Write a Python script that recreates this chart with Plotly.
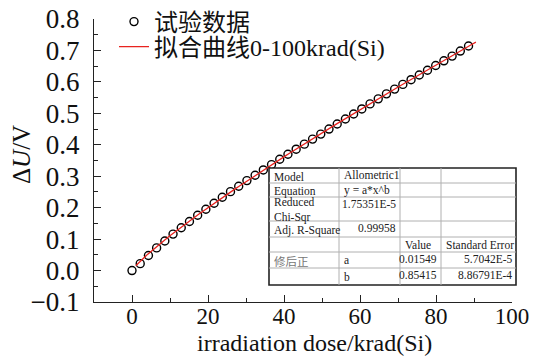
import numpy as np
import plotly.graph_objects as go

# Measured irradiation dose (krad(Si)) and threshold-voltage shift (V)
dose = [0.0, 2.16, 4.32, 6.48, 8.64, 10.8, 12.96, 15.12, 17.28, 19.44, 21.6,
        23.76, 25.92, 28.08, 30.24, 32.4, 34.56, 36.72, 38.88, 41.04, 43.2,
        45.36, 47.52, 49.68, 51.84, 54.0, 56.16, 58.32, 60.48, 62.64, 64.8,
        66.96, 69.12, 71.28, 73.44, 75.6, 77.76, 79.92, 82.08, 84.24, 86.4,
        88.56]
delta_u = [0.000, 0.022, 0.048, 0.072, 0.094, 0.116, 0.136, 0.156, 0.176,
           0.195, 0.214, 0.233, 0.251, 0.268, 0.286, 0.303, 0.320, 0.337,
           0.354, 0.370, 0.386, 0.402, 0.418, 0.434, 0.450, 0.466, 0.482,
           0.498, 0.514, 0.530, 0.546, 0.562, 0.577, 0.592, 0.607, 0.622,
           0.637, 0.652, 0.667, 0.682, 0.698, 0.714]

# Allometric1 fit parameters y = a*x^b
fit_a = 0.01549
fit_b = 0.85415
fit_start, fit_end = 1.0, 90.5

x_ticks = [0, 20, 40, 60, 80, 100]
y_ticks = [-0.1, 0.0, 0.1, 0.2, 0.3, 0.4, 0.5, 0.6, 0.7, 0.8]

legend_names = ["试验数据", "拟合曲线0-100krad(Si)"]
x_title = "irradiation dose/krad(Si)"
y_title = "Δ<i>U</i>/V"

# Fit report table: rows of cells
table_rows = [
    ["Model", "Allometric1", "", ""],
    ["Equation", "y = a*x^b", "", ""],
    ["Reduced<br>Chi-Sqr", "1.75351E-5", "", ""],
    ["Adj. R-Square", "0.99958", "", ""],
    ["", "", "Value", "Standard Error"],
    ["修后正", "a", "0.01549", "5.7042E-5"],
    ["", "b", "0.85415", "8.86791E-4"],
]

W, H = 534, 362
L, R, T, B = 94, 512, 19, 302
SERIF = "Liberation Serif, Noto Sans CJK SC, serif"


def px(xp):
    return (xp - L) / (R - L)


def py(yp):
    return (B - yp) / (B - T)


fx = np.linspace(fit_start, fit_end, 200)
fy = fit_a * fx ** fit_b

fig = go.Figure()
fig.add_trace(go.Scatter(
    x=dose, y=delta_u, mode="markers", name=legend_names[0], legend="legend",
    marker=dict(symbol="circle-open", size=8, color="black",
                line=dict(width=1.4, color="black")),
))
fig.add_trace(go.Scatter(
    x=fx, y=fy, mode="lines", name=legend_names[1], legend="legend2",
    line=dict(color="#e8231f", width=1.3),
))

# Table geometry (pixel positions)
col_edges = [269, 339, 400, 441, 516]
row_edges = [168, 183, 197, 221, 237, 252, 268, 285]

shapes = []
shapes.append(dict(type="rect", xref="paper", yref="paper",
                   x0=px(col_edges[0]), x1=px(col_edges[-1]),
                   y0=py(row_edges[-1]), y1=py(row_edges[0]),
                   fillcolor="white", line=dict(color="#222", width=1.6),
                   layer="above"))
for xe in col_edges[1:-1]:
    shapes.append(dict(type="line", xref="paper", yref="paper",
                       x0=px(xe), x1=px(xe), y0=py(row_edges[-1]),
                       y1=py(row_edges[0]),
                       line=dict(color="#b0b0b0", width=1), layer="above"))
for ye in row_edges[1:-1]:
    shapes.append(dict(type="line", xref="paper", yref="paper",
                       x0=px(col_edges[0]), x1=px(col_edges[-1]),
                       y0=py(ye), y1=py(ye),
                       line=dict(color="#b0b0b0", width=1), layer="above"))

annotations = []
# numbers right-aligned near the top of the cell, labels left-aligned
for r, row in enumerate(table_rows):
    ytop, ybot = row_edges[r], row_edges[r + 1]
    for c, txt in enumerate(row):
        if not txt:
            continue
        is_num = txt[0].isdigit() and c > 0
        if is_num:
            xa, anchor = col_edges[c + 1] - 2, "right"
            yc = ytop + 7
        else:
            xa, anchor = col_edges[c] + 3, "left"
            yc = (ytop + ybot) / 2 + (1.5 if c == 0 else 0)
        color = "#777" if txt == "修后正" else "#222"
        annotations.append(dict(
            x=px(xa), y=py(yc), xref="paper", yref="paper",
            text=txt, showarrow=False, xanchor=anchor, yanchor="middle",
            align="left", font=dict(family=SERIF, size=11.5, color=color),
        ))

# axis titles
annotations.append(dict(x=px(314), y=py(343), xref="paper", yref="paper",
                        text=x_title, showarrow=False, xanchor="center",
                        yanchor="middle",
                        font=dict(family=SERIF, size=24, color="#111")))
annotations.append(dict(x=px(21), y=py(155), xref="paper", yref="paper",
                        text=y_title, showarrow=False, textangle=-90,
                        xanchor="center", yanchor="middle",
                        font=dict(family=SERIF, size=25, color="#111")))

legend_style = dict(xanchor="left", yanchor="middle",
                    bgcolor="rgba(0,0,0,0)",
                    font=dict(family=SERIF, size=24, color="#111"),
                    itemwidth=30)

fig.update_layout(
    width=W, height=H,
    margin=dict(l=L, r=W - R, t=T, b=H - B, autoexpand=False),
    paper_bgcolor="white", plot_bgcolor="white",
    font=dict(family=SERIF, color="#111"),
    showlegend=True,
    legend=dict(x=px(114), y=py(22), **legend_style),
    legend2=dict(x=px(114), y=py(47), **legend_style),
    shapes=shapes,
    annotations=annotations,
    xaxis=dict(
        range=[-10, 100], tickvals=x_ticks, ticktext=[str(v) for v in x_ticks],
        ticks="inside", ticklen=7, tickwidth=1.2, tickcolor="#222",
        minor=dict(dtick=10, ticks="inside", ticklen=4, tickwidth=1.2,
                   tickcolor="#222", showgrid=False),
        showline=True, linecolor="#222", linewidth=1.3, mirror=False,
        showgrid=False, zeroline=False, automargin=False,
        tickfont=dict(family=SERIF, size=23, color="#111"),
        ticklabelstandoff=-7,
    ),
    yaxis=dict(
        range=[-0.1, 0.8], tickvals=y_ticks, tickformat=".1f",
        ticks="inside", ticklen=7, tickwidth=1.2, tickcolor="#222",
        minor=dict(dtick=0.05, ticks="inside", ticklen=4, tickwidth=1.2,
                   tickcolor="#222", showgrid=False),
        showline=True, linecolor="#222", linewidth=1.3, mirror=False,
        showgrid=False, zeroline=False, automargin=False,
        tickfont=dict(family=SERIF, size=27, color="#111"),
        ticklabelstandoff=8,
    ),
)

fig.write_html("out.html")
